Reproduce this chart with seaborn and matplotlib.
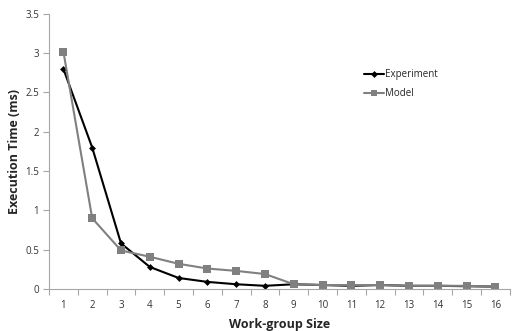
import matplotlib
matplotlib.use("Agg")
import matplotlib.pyplot as plt
import seaborn as sns
import pandas as pd
import numpy as np
from matplotlib.ticker import FixedLocator
from matplotlib.lines import Line2D

sizes = list(range(1, 17))
experiment = [2.80, 1.80, 0.58, 0.28, 0.14, 0.09, 0.06, 0.04, 0.06, 0.05, 0.04, 0.05, 0.04, 0.04, 0.035, 0.03]
model = [3.02, 0.90, 0.49, 0.41, 0.32, 0.26, 0.23, 0.19, 0.06, 0.05, 0.05, 0.05, 0.04, 0.04, 0.04, 0.03]

df = pd.DataFrame({
    "size": sizes * 2,
    "time": experiment + model,
    "series": ["Experiment"] * 16 + ["Model"] * 16,
})

sns.set_style("white")
plt.rcParams["font.family"] = ["Open Sans", "DejaVu Sans"]

fig = plt.figure(figsize=(5.12, 3.31), dpi=100)
ax = fig.add_axes([0.0957, 0.127, 0.9, 0.831])

sns.lineplot(data=df, x="size", y="time", hue="series", style="series",
             palette={"Experiment": "#000000", "Model": "#808080"},
             markers={"Experiment": "D", "Model": "s"}, dashes=False,
             markersize=0, linewidth=1.5, ax=ax, legend=False)
for line, ms in zip(ax.get_lines(), [3.5, 5.5]):
    line.set_markersize(ms)
    line.set_markeredgewidth(0)

handles = [Line2D([], [], color="#000000", marker="D", markersize=3.5, markeredgewidth=0, linewidth=1.5),
           Line2D([], [], color="#808080", marker="s", markersize=5, markeredgewidth=0, linewidth=1.5)]
ax.legend(handles, ["Experiment", "Model"], loc="upper left", bbox_to_anchor=(0.665, 0.83),
          frameon=False, fontsize=7, handlelength=2.0, handletextpad=0.15, labelspacing=0.8)

ax.set_xlim(0.5, 16.5)
ax.set_ylim(0, 3.5)
ax.set_xticks(sizes)
ax.set_xticklabels([str(s) for s in sizes])
ax.xaxis.set_minor_locator(FixedLocator(np.arange(0.5, 17, 1)))
ax.set_yticks([0, 0.5, 1, 1.5, 2, 2.5, 3, 3.5])
ax.set_yticklabels(["0", "0.5", "1", "1.5", "2", "2.5", "3", "3.5"])
ax.tick_params(axis="x", which="major", length=0, labelsize=7, pad=8, colors="#a6a6a6", labelcolor="#333333")
ax.tick_params(axis="x", which="minor", length=4, color="#a6a6a6", width=0.8, bottom=True)
ax.tick_params(axis="y", which="major", length=4, color="#a6a6a6", width=0.8, labelsize=7, left=True, labelcolor="#333333", pad=3)

for s in ["top", "right"]:
    ax.spines[s].set_visible(False)
for s in ["left", "bottom"]:
    ax.spines[s].set_color("#a6a6a6")
    ax.spines[s].set_linewidth(0.8)

ax.set_xlabel("Work-group Size", fontsize=9, fontweight="bold", labelpad=5)
ax.set_ylabel("Execution Time (ms)", fontsize=9, fontweight="bold", labelpad=3)

fig.savefig("out.png", dpi=100)
